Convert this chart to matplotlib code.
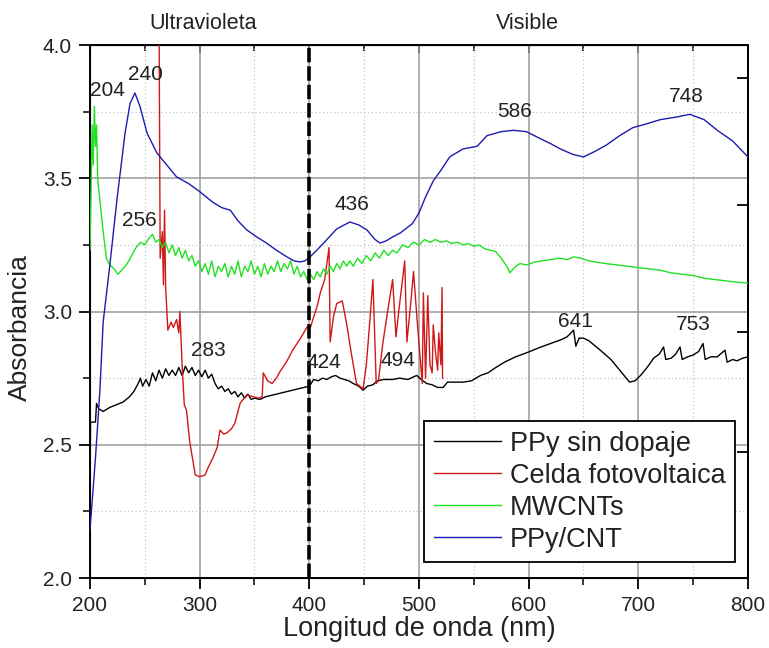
import matplotlib
matplotlib.use("Agg")
import matplotlib.pyplot as plt
from matplotlib.ticker import MultipleLocator
from matplotlib.transforms import blended_transform_factory

plt.rcParams['font.family'] = ['Liberation Sans', 'DejaVu Sans']

# ---------------- data ----------------
ppy_x = [200, 200.5, 205, 206, 208, 212, 218, 224, 230, 236, 240, 244, 246, 248, 251, 254, 257, 260,
         263, 266, 269, 272, 275, 278, 281, 284, 287, 290, 293, 296, 299, 302, 305, 308, 311, 314,
         317, 320, 323, 326, 329, 332, 335, 338, 341, 344, 347, 350, 355, 360, 365, 370, 375, 380,
         385, 390, 395, 400, 404, 408, 412, 416, 420, 424, 428, 432, 436, 440, 445, 449, 453, 458,
         462, 468, 476, 482, 490, 495, 498, 502, 507, 512, 517, 522, 526, 532, 540, 548, 556, 563,
         570, 578, 588, 598, 610, 620, 630, 635, 641, 643, 646, 650, 655, 665, 675, 681, 687, 692,
         697, 702, 708, 714, 719, 723, 725, 730, 734, 738, 740, 745, 750, 755, 759, 761, 766, 772,
         779, 781, 786, 790, 795, 800]
ppy_y = [2.27, 2.585, 2.585, 2.655, 2.635, 2.625, 2.64, 2.65, 2.66, 2.68, 2.70, 2.73, 2.75, 2.72,
         2.745, 2.72, 2.77, 2.74, 2.78, 2.75, 2.785, 2.76, 2.78, 2.76, 2.79, 2.76, 2.795, 2.77, 2.79,
         2.76, 2.78, 2.755, 2.78, 2.75, 2.765, 2.73, 2.71, 2.72, 2.70, 2.71, 2.69, 2.70, 2.68, 2.695,
         2.675, 2.69, 2.67, 2.675, 2.67, 2.68, 2.685, 2.69, 2.695, 2.70, 2.705, 2.71, 2.715, 2.72,
         2.745, 2.74, 2.75, 2.745, 2.755, 2.76, 2.75, 2.745, 2.74, 2.73, 2.72, 2.705, 2.72, 2.725,
         2.74, 2.745, 2.745, 2.75, 2.745, 2.755, 2.76, 2.745, 2.73, 2.725, 2.715, 2.715, 2.735,
         2.735, 2.735, 2.74, 2.76, 2.77, 2.79, 2.81, 2.83, 2.845, 2.865, 2.88, 2.895, 2.905, 2.93,
         2.87, 2.90, 2.90, 2.89, 2.856, 2.82, 2.79, 2.76, 2.735, 2.74, 2.76, 2.79, 2.825, 2.84,
         2.867, 2.82, 2.825, 2.84, 2.867, 2.82, 2.83, 2.837, 2.85, 2.88, 2.82, 2.83, 2.83, 2.855,
         2.81, 2.82, 2.815, 2.825, 2.83]

celda_x = [263, 264, 266, 267, 268, 269, 271, 274, 276, 279, 281, 282, 284, 286, 288, 291, 296, 300,
           305, 308, 312, 316, 318.6, 322, 325, 329, 332, 337, 343, 349, 354, 357, 358, 362, 366,
           370, 373, 379, 385, 392, 398, 401, 404, 407, 410, 414, 416, 418, 419, 422, 425, 430, 434,
           438, 443, 449, 452, 455, 458, 461, 463, 467, 471, 476, 479, 482, 487, 489, 493, 495, 499,
           503, 504, 506, 508, 510, 512, 513, 515, 517, 518, 520, 521, 521.5]
celda_y = [4.10, 3.20, 3.30, 3.10, 3.38, 3.09, 2.93, 2.96, 2.94, 2.97, 2.92, 3.00, 2.80, 2.65, 2.63,
           2.51, 2.387, 2.38, 2.387, 2.417, 2.45, 2.49, 2.555, 2.54, 2.545, 2.56, 2.58, 2.657, 2.687,
           2.68, 2.675, 2.68, 2.77, 2.74, 2.73, 2.75, 2.773, 2.81, 2.856, 2.90, 2.942, 2.94, 2.98,
           3.017, 3.07, 3.12, 3.18, 3.24, 2.886, 2.98, 3.03, 3.04, 2.955, 2.85, 2.73, 2.71, 2.80,
           2.955, 3.12, 2.73, 2.74, 2.88, 2.99, 3.12, 2.905, 3.017, 3.19, 2.886, 3.055, 3.15, 2.93,
           2.73, 3.07, 2.75, 3.06, 2.80, 2.77, 2.95, 2.85, 2.78, 2.92, 2.80, 3.09, 2.75]

mwcnt_x = [200, 201, 202, 203, 204, 205, 206, 207, 209, 212, 215, 218, 222, 225.5, 230, 234, 238, 242,
           246, 250, 253, 257, 260, 263, 266, 269, 272, 275, 278, 281, 284, 287, 290, 293, 296, 299,
           302, 305, 308, 311, 314, 317, 320, 323, 326, 329, 332, 335, 338, 341, 344, 347, 350, 353,
           356, 359, 362, 365, 368, 371, 374, 377, 380, 383, 386, 389, 392, 395, 398, 401, 404, 407,
           410, 413, 416, 419, 422, 425, 428, 431, 434, 437, 440, 444, 448, 452, 456, 460, 464, 468,
           472, 476, 480, 485, 490, 495, 500, 505, 510, 515, 520, 525, 530, 535, 540, 545, 550, 555,
           560, 565, 570, 575, 580, 583, 587, 592, 598, 605, 612, 620, 628, 635, 641, 648, 655, 662,
           670, 680, 690, 700, 710, 720, 730, 740, 750, 760, 770, 780, 790, 800]
mwcnt_y = [3.23, 3.45, 3.70, 3.55, 3.77, 3.62, 3.70, 3.50, 3.42, 3.30, 3.20, 3.175, 3.16, 3.14, 3.16,
           3.18, 3.21, 3.24, 3.26, 3.25, 3.27, 3.29, 3.26, 3.27, 3.24, 3.26, 3.22, 3.25, 3.21, 3.24,
           3.20, 3.23, 3.19, 3.21, 3.17, 3.19, 3.15, 3.18, 3.14, 3.19, 3.13, 3.17, 3.15, 3.18, 3.13,
           3.17, 3.14, 3.19, 3.13, 3.17, 3.15, 3.19, 3.14, 3.17, 3.13, 3.18, 3.14, 3.17, 3.15, 3.19,
           3.15, 3.18, 3.16, 3.19, 3.14, 3.17, 3.13, 3.15, 3.12, 3.14, 3.12, 3.15, 3.13, 3.16, 3.14,
           3.17, 3.15, 3.18, 3.16, 3.19, 3.17, 3.19, 3.17, 3.20, 3.18, 3.21, 3.19, 3.22, 3.20, 3.23,
           3.21, 3.23, 3.22, 3.25, 3.24, 3.26, 3.25, 3.27, 3.26, 3.27, 3.26, 3.265, 3.255, 3.26,
           3.25, 3.255, 3.245, 3.25, 3.235, 3.23, 3.225, 3.20, 3.17, 3.145, 3.165, 3.18, 3.175,
           3.185, 3.19, 3.195, 3.20, 3.195, 3.205, 3.20, 3.19, 3.185, 3.18, 3.175, 3.17, 3.165,
           3.16, 3.155, 3.145, 3.14, 3.135, 3.125, 3.12, 3.115, 3.11, 3.107]

ppycnt_x = [200, 205, 209, 212, 218, 224.6, 232, 236.5, 241, 245.6, 252, 261, 270, 279, 290, 300,
            312, 320, 328, 335, 343, 352, 361, 370, 379.6, 386, 391.5, 396, 400.6, 408, 416, 425,
            437, 445, 452.6, 460, 464.5, 470, 476, 483, 494, 500, 506, 513, 520, 528, 540, 553, 562,
            575, 586, 598, 610, 620, 629, 640, 650, 660, 671, 683, 695, 708, 720, 735, 747, 760,
            772, 786, 800]
ppycnt_y = [2.18, 2.45, 2.70, 2.96, 3.17, 3.42, 3.67, 3.78, 3.82, 3.77, 3.67, 3.595, 3.55, 3.505,
            3.48, 3.45, 3.41, 3.39, 3.38, 3.34, 3.306, 3.28, 3.257, 3.23, 3.205, 3.19, 3.186, 3.19,
            3.205, 3.235, 3.27, 3.31, 3.336, 3.325, 3.306, 3.27, 3.257, 3.265, 3.28, 3.295, 3.33,
            3.37, 3.43, 3.49, 3.53, 3.58, 3.61, 3.62, 3.66, 3.675, 3.68, 3.675, 3.65, 3.63, 3.61,
            3.59, 3.58, 3.60, 3.625, 3.66, 3.69, 3.705, 3.72, 3.73, 3.74, 3.72, 3.68, 3.64, 3.58]

peak_labels = ["204", "240", "256", "436", "283", "424", "494", "586", "748", "641", "753"]
peak_label_x = [216, 251, 245, 439, 308, 413, 481, 587, 744, 643, 750]
peak_label_y = [3.83, 3.89, 3.343, 3.40, 2.855, 2.81, 2.818, 3.75, 3.807, 2.963, 2.95]

series_names = ["PPy sin dopaje", "Celda fotovoltaica", "MWCNTs", "PPy/CNT"]
series_colors = ["#000000", "#d01818", "#22e022", "#1c1cb0"]

region_labels = ["Ultravioleta", "Visible"]
region_label_x = [303, 599]
boundary_x = 400

# ---------------- figure ----------------
fig = plt.figure(figsize=(7.69, 6.48), dpi=100)
ax = fig.add_axes([0.1170, 0.1080, 0.8557, 0.8225])

ax.plot(ppy_x, ppy_y, color=series_colors[0], lw=1.0, label=series_names[0], zorder=3)
ax.plot(celda_x, celda_y, color=series_colors[1], lw=1.0, label=series_names[1], zorder=3)
ax.plot(mwcnt_x, mwcnt_y, color=series_colors[2], lw=1.0, label=series_names[2], zorder=3)
ax.plot(ppycnt_x, ppycnt_y, color=series_colors[3], lw=1.0, label=series_names[3], zorder=3)

ax.axvline(boundary_x, color='black', lw=2.6, linestyle=(0, (4.0, 1.1)), zorder=4)

ax.set_xlim(200, 800)
ax.set_ylim(2.0, 4.0)
ax.xaxis.set_major_locator(MultipleLocator(100))
ax.xaxis.set_minor_locator(MultipleLocator(50))
ax.yaxis.set_major_locator(MultipleLocator(0.5))
ax.yaxis.set_minor_locator(MultipleLocator(0.25))
ax.yaxis.set_major_formatter(matplotlib.ticker.FormatStrFormatter('%.1f'))

ax.grid(which='major', color='#9a9a9a', lw=1.1, zorder=0)
ax.grid(which='minor', color='#c4c4c4', lw=0.9, linestyle=(0, (1, 2)), zorder=0)
ax.set_axisbelow(True)

for s in ax.spines.values():
    s.set_linewidth(1.4)

ax.tick_params(axis='both', which='major', direction='out', length=8, width=1.3,
               labelsize=15, colors='black', labelcolor='#222222', pad=5)
ax.tick_params(axis='both', which='minor', direction='out', length=5, width=1.1)
ax.tick_params(axis='y', which='both', right=False)
ax.tick_params(axis='x', which='both', top=False)

# top ticks inward via secondary axis
secx = ax.secondary_xaxis('top')
secx.xaxis.set_major_locator(MultipleLocator(100))
secx.xaxis.set_minor_locator(MultipleLocator(50))
secx.tick_params(which='major', direction='in', length=6, width=1.3, labeltop=False)
secx.tick_params(which='minor', direction='in', length=4, width=1.1)

# right axis with its own tick spacing
ax2 = ax.twinx()
ax2.set_ylim(0, 1)
ax2.set_yticks([0.236, 0.4615, 0.700, 0.938])
ax2.tick_params(axis='y', direction='in', length=8, width=1.3, labelright=False)
ax2.spines['right'].set_linewidth(1.4)

ax.set_xlabel("Longitud de onda (nm)", fontsize=19.5, color='#222222', labelpad=1)
ax.set_ylabel("Absorbancia", fontsize=19, color='#222222')
ax.yaxis.set_label_coords(-0.088, 0.469)

for t, x, y in zip(peak_labels, peak_label_x, peak_label_y):
    ax.text(x, y, t, fontsize=15, color='#222222', ha='center', va='center', zorder=5)

tr = blended_transform_factory(ax.transData, ax.transAxes)
for t, x in zip(region_labels, region_label_x):
    ax.text(x, 1.041, t, transform=tr, fontsize=15.5, color='#222222', ha='center', va='center')

leg = ax.legend(loc='lower right', bbox_to_anchor=(0.98, 0.03), fontsize=19.5,
                frameon=True, fancybox=False, edgecolor='black', framealpha=1,
                handlelength=2.5, handletextpad=0.3, labelspacing=0.22, borderpad=0.35,
                borderaxespad=0)
leg.get_frame().set_linewidth(1.3)
for txt in leg.get_texts():
    txt.set_color('#222222')
leg.set_zorder(10)
ax.set_zorder(ax2.get_zorder() + 1)
ax.patch.set_visible(False)

fig.savefig("out.png", dpi=100)
